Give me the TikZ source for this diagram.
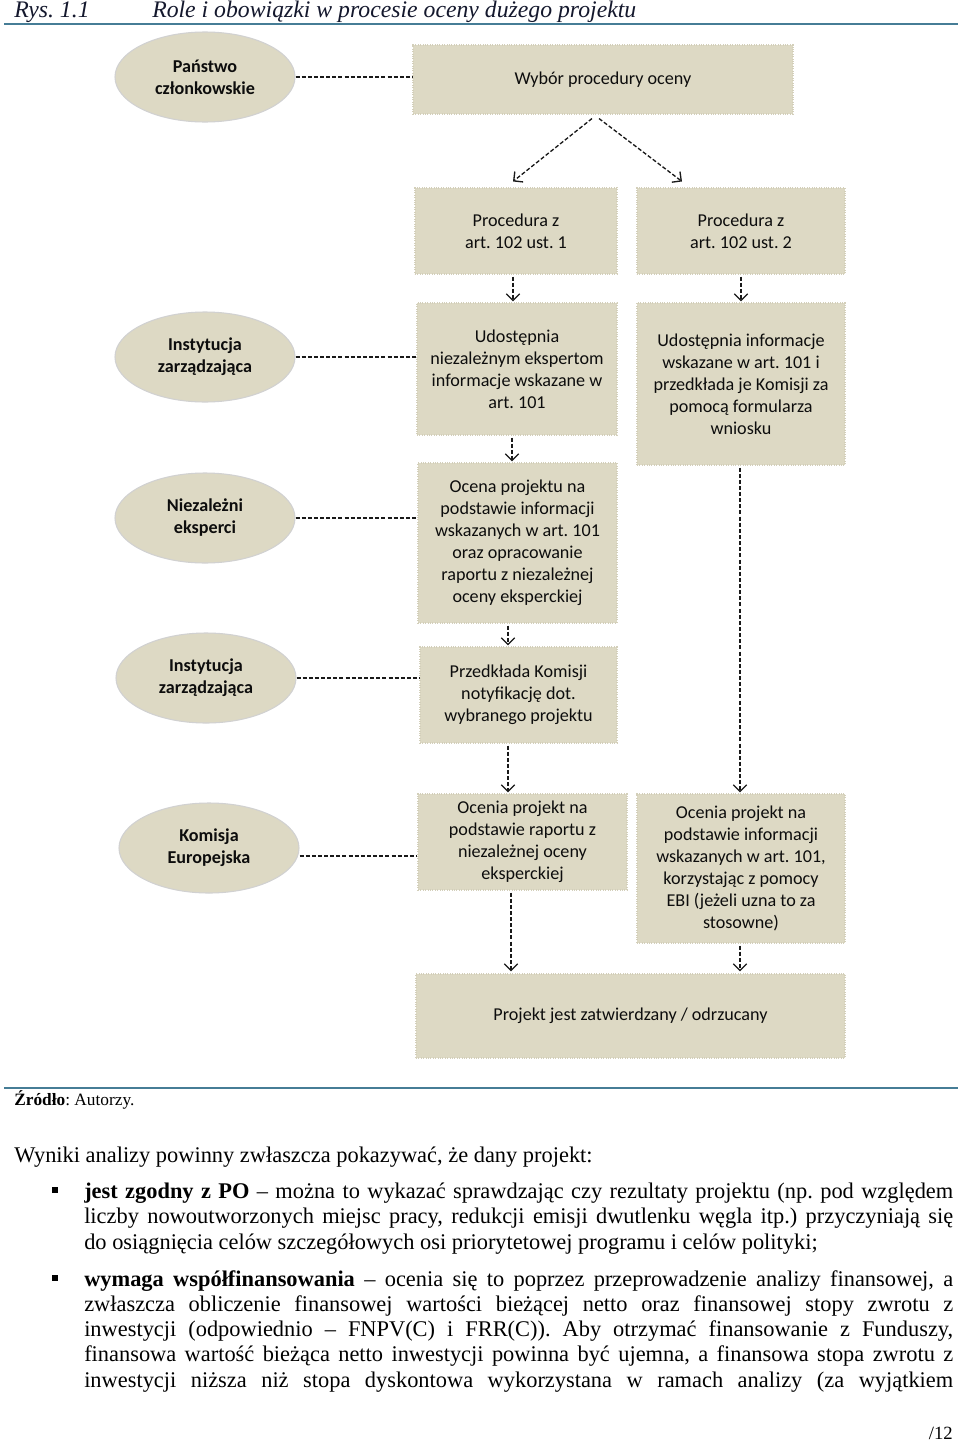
\documentclass[tikz,border=0pt]{standalone}
\usepackage{fontspec}
\setmainfont{Liberation Serif}
\newfontfamily\boxfont{Carlito}
\usetikzlibrary{arrows.meta,shapes.geometric}
\definecolor{tanfill}{HTML}{DDD9C4}
\definecolor{tanedge}{HTML}{D3CFBA}
\definecolor{rulecol}{RGB}{70,125,150}
\definecolor{headcol}{RGB}{20,24,45}
\def\px{0.75pt}
\newcommand{\jline}[1]{\makebox[651.75pt][s]{#1}}
\frenchspacing
\begin{document}
\begin{tikzpicture}[x=0.75pt,y=-0.75pt,
  bx/.style 2 args={rectangle, fill=tanfill, draw=tanedge, densely dotted, line width=0.8pt,
    minimum width=#1*\px, minimum height=#2*\px, inner sep=0pt, align=center,
    font=\boxfont\fontsize{13.6}{16.5}\selectfont, text=black!95},
  el/.style={ellipse, fill=tanfill, draw=black!18, line width=0.8pt,
    minimum width=180*\px, minimum height=90*\px, inner sep=0pt, align=center,
    font=\boxfont\bfseries\fontsize{13.6}{16.5}\selectfont, text=black!95},
  conn/.style={draw=black!90, line width=1pt, dash pattern=on 3pt off 1.6pt},
  arr/.style={conn, -{Straight Barb[length=5pt,width=10pt]}},
  body/.style={anchor=base west, inner sep=0pt, font=\fontsize{16.8}{19}\selectfont},
  bullet/.style={fill=black, minimum size=6*\px, inner sep=0pt, rectangle}
]
\useasboundingbox[fill=white] (0,0) rectangle (960,1442);

% header
\node[anchor=base west, inner sep=0pt, font=\itshape\fontsize{17.8}{20}\selectfont, text=headcol] (rys) at (14,17) {Rys. 1.1};
\node[anchor=base west, inner sep=0pt, font=\itshape\fontsize{17.8}{20}\selectfont, text=headcol] (tit) at (152,17) {Role i obowiązki w procesie oceny dużego projektu};
\draw[rulecol, line width=2.2pt] (4,24) -- (958,24);

% ellipses
\node[el] (e1) at (205,77) {Państwo\\członkowskie};
\node[el] (e2) at (205,357) {Instytucja\\zarządzająca};
\node[el] (e3) at (205,518) {Niezależni\\eksperci};
\node[el] (e4) at (206,678) {Instytucja\\zarządzająca};
\node[el] (e5) at (209,848) {Komisja\\Europejska};

% boxes
\node[bx={380}{69}] (wyb) at (603,79.5) {Wybór procedury oceny};
\node[bx={202}{86}] (p1) at (516,231) {Procedura z\\art. 102 ust. 1};
\node[bx={208}{86}] (p2) at (741,231) {Procedura z\\art. 102 ust. 2};
\node[bx={200}{132}] (u1) at (517,369) {Udostępnia\\niezależnym ekspertom\\informacje wskazane w\\art. 101};
\node[bx={208}{162}] (u2) at (741,384) {Udostępnia informacje\\wskazane w art. 101 i\\przedkłada je Komisji za\\pomocą formularza\\wniosku};
\node[bx={199}{160}] (o1) at (517.5,543) {Ocena projektu na\\podstawie informacji\\wskazanych w art. 101\\oraz opracowanie\\raportu z niezależnej\\oceny eksperckiej};
\node[bx={197}{96}] (pk) at (518.5,695) {Przedkłada Komisji\\notyfikację dot.\\wybranego projektu};
\node[bx={209}{96}] (c1) at (522.5,842) {Ocenia projekt na\\podstawie raportu z\\niezależnej oceny\\eksperckiej};
\node[bx={208}{149}] (c2) at (741,868.5) {Ocenia projekt na\\podstawie informacji\\wskazanych w art. 101,\\korzystając z pomocy\\EBI (jeżeli uzna to za\\stosowne)};
\node[bx={429}{84}] (fin) at (630.5,1016) {Projekt jest zatwierdzany / odrzucany};

% horizontal connectors
\draw[conn] (e1.east) -- (e1.east -| wyb.west);
\draw[conn] (e2.east) -- (e2.east -| u1.west);
\draw[conn] (e3.east) -- (e3.east -| o1.west);
\draw[conn] (e4.east) -- (e4.east -| pk.west);
\draw[conn] ([shift={(0,8)}]e5.east) -- ([shift={(0,8)}]e5.east -| c1.west);

% arrows
\draw[arr] ([shift={(-11,4)}]wyb.south) -- ([shift={(-3,-6)}]p1.north);
\draw[arr] ([shift={(-4,4)}]wyb.south) -- ([shift={(-59,-6)}]p2.north);
\draw[arr] ([shift={(-3,2)}]p1.south) -- ([shift={(-4,-1)}]u1.north);
\draw[arr] ([shift={(0,2)}]p2.south) -- ([shift={(0,-1)}]u2.north);
\draw[arr] ([shift={(-5,2)}]u1.south) -- ([shift={(-5.5,-1)}]o1.north);
\draw[arr] ([shift={(-9.5,2)}]o1.south) -- ([shift={(-10.5,-1)}]pk.north);
\draw[arr] ([shift={(-10.5,2)}]pk.south) -- ([shift={(-14.5,-1)}]c1.north);
\draw[arr] ([shift={(-1,2)}]u2.south) -- ([shift={(-1,-1)}]c2.north);
\draw[arr] ([shift={(-11.5,2)}]c1.south) -- ([shift={(-119.5,-2)}]fin.north);
\draw[arr] ([shift={(-1,2)}]c2.south) -- ([shift={(109.5,-2)}]fin.north);

% bottom rule and source
\draw[rulecol, line width=1.6pt] (4,1088) -- (958,1088);
\node[anchor=base west, inner sep=0pt, font=\fontsize{13}{15}\selectfont] (src) at (14,1105) {\textbf{Źródło}: Autorzy.};

% body text
\node[body] (intro) at (14,1162) {Wyniki analizy powinny zwłaszcza pokazywać, że dany projekt:};
\node[bullet] (b1) at (55,1190) {};
\node[body] (l11) at (84,1198) {\jline{\textbf{jest zgodny z PO} – można to wykazać sprawdzając czy rezultaty projektu (np. pod względem}};
\node[body] (l12) at (84,1223) {\jline{liczby nowoutworzonych miejsc pracy, redukcji emisji dwutlenku węgla itp.) przyczyniają się}};
\node[body] (l13) at (84,1249) {do osiągnięcia celów szczegółowych osi priorytetowej programu i celów polityki;};
\node[bullet] (b2) at (55,1278) {};
\node[body] (l21) at (84,1286) {\jline{\textbf{wymaga współfinansowania} – ocenia się to poprzez przeprowadzenie analizy finansowej, a}};
\node[body] (l22) at (84,1311) {\jline{zwłaszcza obliczenie finansowej wartości bieżącej netto oraz finansowej stopy zwrotu z}};
\node[body] (l23) at (84,1336) {\jline{inwestycji (odpowiednio – FNPV(C) i FRR(C)). Aby otrzymać finansowanie z Funduszy,}};
\node[body] (l24) at (84,1361) {\jline{finansowa wartość bieżąca netto inwestycji powinna być ujemna, a finansowa stopa zwrotu z}};
\node[body] (l25) at (84,1387) {\jline{inwestycji niższa niż stopa dyskontowa wykorzystana w ramach analizy (za wyjątkiem}};
\node[anchor=base east, inner sep=0pt, font=\fontsize{14}{16}\selectfont] (pg) at (953,1439) {/12};
\end{tikzpicture}
\end{document}
